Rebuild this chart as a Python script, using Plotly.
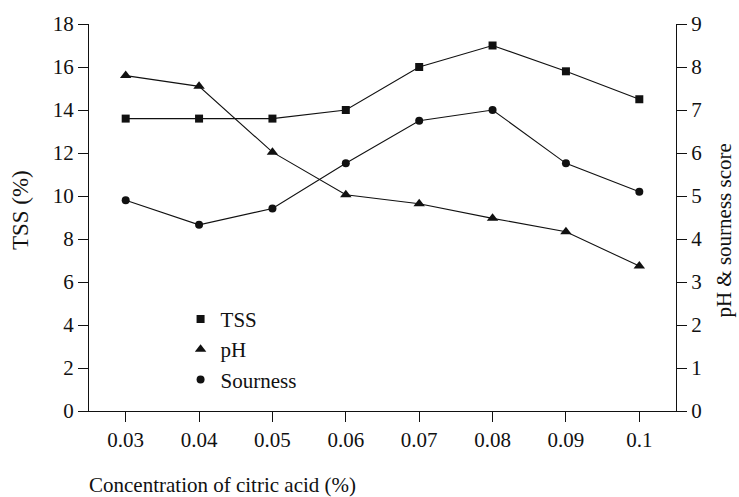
import plotly.graph_objects as go

concentration = ["0.03", "0.04", "0.05", "0.06", "0.07", "0.08", "0.09", "0.1"]
tss = [13.6, 13.6, 13.6, 14.0, 16.0, 17.0, 15.8, 14.5]
ph = [7.8, 7.55, 6.02, 5.03, 4.82, 4.48, 4.17, 3.37]
sourness = [4.9, 4.33, 4.71, 5.76, 6.75, 7.0, 5.76, 5.1]

FONT = "Liberation Serif"
INK = "#111111"

fig = go.Figure()

line_style = dict(color=INK, width=1.1)

fig.add_trace(go.Scatter(x=concentration, y=tss, mode="lines+markers", name="TSS",
                         line=line_style, marker=dict(symbol="square", size=8, color=INK),
                         showlegend=False, yaxis="y"))
fig.add_trace(go.Scatter(x=concentration, y=ph, mode="lines+markers", name="pH",
                         line=line_style, marker=dict(symbol="triangle-up", size=10, color=INK),
                         showlegend=False, yaxis="y2"))
fig.add_trace(go.Scatter(x=concentration, y=sourness, mode="lines+markers", name="Sourness",
                         line=line_style, marker=dict(symbol="circle", size=8, color=INK),
                         showlegend=False, yaxis="y2"))

# legend entries (markers only)
fig.add_trace(go.Scatter(x=[None], y=[None], mode="markers", name="TSS",
                         marker=dict(symbol="square", size=8, color=INK)))
fig.add_trace(go.Scatter(x=[None], y=[None], mode="markers", name="pH",
                         marker=dict(symbol="triangle-up", size=10, color=INK)))
fig.add_trace(go.Scatter(x=[None], y=[None], mode="markers", name="Sourness",
                         marker=dict(symbol="circle", size=8, color=INK)))

axis_common = dict(showgrid=False, zeroline=False, showline=True, linecolor=INK, linewidth=1.2,
                   ticks="outside", ticklen=10, tickwidth=1.2, tickcolor=INK,
                   tickfont=dict(family=FONT, size=21, color=INK))

fig.update_layout(
    width=739, height=497,
    margin=dict(l=89, r=63, t=16, b=86),
    paper_bgcolor="white", plot_bgcolor="white",
    font=dict(family=FONT, size=21, color=INK),
    xaxis=dict(type="category", range=[-0.5, 7.5], **axis_common),
    yaxis=dict(range=[0, 18], dtick=2, **axis_common),
    yaxis2=dict(range=[0, 9], dtick=1, overlaying="y", side="right", anchor="x", **axis_common),
    legend=dict(x=0.156, y=0.29, xanchor="left", yanchor="top", bgcolor="rgba(0,0,0,0)",
                font=dict(family=FONT, size=21, color=INK), tracegroupgap=0),
    annotations=[
        dict(text="Concentration of citric acid (%)", xref="paper", yref="paper",
             x=-0.004, y=-0.192, xanchor="left", yanchor="middle", showarrow=False,
             font=dict(family=FONT, size=21, color=INK)),
        dict(text="TSS (%)", xref="paper", yref="paper", x=-0.117, y=0.52,
             xanchor="center", yanchor="middle", textangle=-90, showarrow=False,
             font=dict(family=FONT, size=23, color=INK)),
        dict(text="pH & sourness score", xref="paper", yref="paper", x=1.081, y=0.465,
             xanchor="center", yanchor="middle", textangle=-90, showarrow=False,
             font=dict(family=FONT, size=21, color=INK)),
    ],
)

fig.write_html("out.html", config={"displayModeBar": False},
               post_script="document.body.style.margin='0';document.body.style.overflow='hidden';")
